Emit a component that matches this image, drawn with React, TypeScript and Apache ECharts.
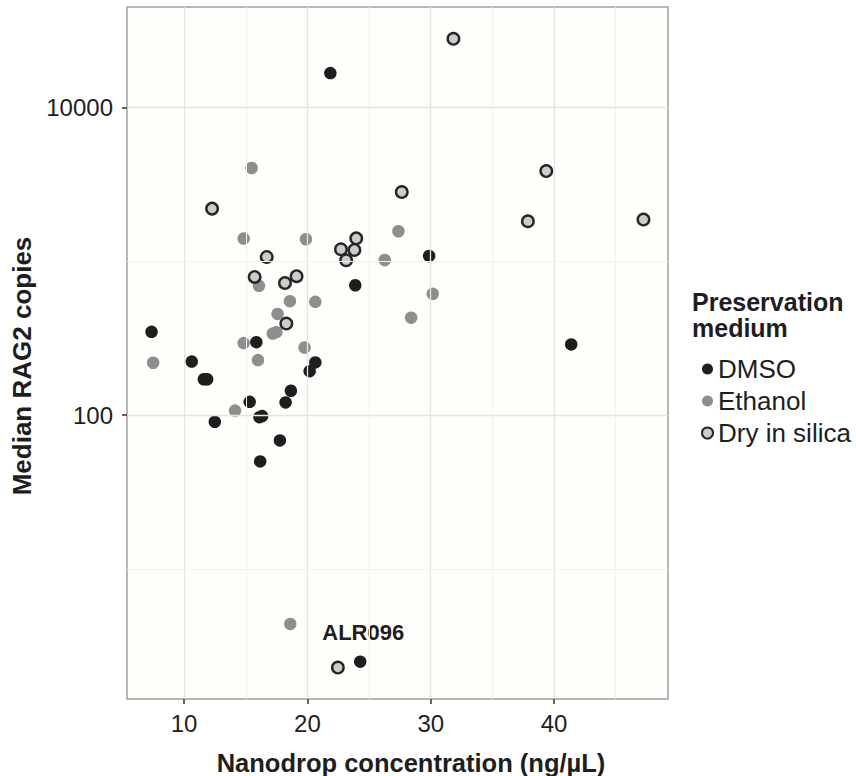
import React, { useEffect, useRef } from "react";
import * as echarts from "echarts";

// ---- Data ----
const dmsoX = [21.86, 29.87, 23.88, 7.36, 15.86, 10.62, 11.6, 11.87, 20.64, 20.18, 18.66, 18.23, 15.32, 16.11, 16.33, 12.49, 17.77, 16.17, 24.28, 41.39];
const dmsoY = [16700, 1082, 698, 348, 298, 223, 171, 171, 220, 193, 144, 121, 122, 97, 98.6, 90.5, 68.5, 50, 2.5, 288];

const ethanolX = [15.48, 14.83, 19.88, 27.38, 26.27, 16.07, 18.58, 20.64, 30.16, 28.41, 17.58, 17.19, 17.48, 14.83, 19.77, 7.49, 15.99, 14.13, 18.61];
const ethanolY = [4036, 1403, 1390, 1567, 1019, 692, 550, 545, 614, 430, 455, 339, 346, 294, 275, 219, 228, 107, 4.4];

const silicaX = [31.84, 12.27, 27.65, 23.96, 22.72, 23.81, 23.14, 16.7, 15.72, 19.12, 18.18, 18.29, 39.37, 37.88, 47.25, 22.47];
const silicaY = [27900, 2198, 2818, 1409, 1197, 1184, 1015, 1067, 791, 800, 722, 394, 3856, 1820, 1866, 2.29];

const labelledSample = "ALR096";
const labelledIndex = 18; // DMSO point carrying the label

const xTicks = [10, 20, 30, 40];
const xMinorGrid = [15, 25, 35, 45];
const yTicks = [100, 10000];
const yMinorGrid = [10, 1000];

const xRange = [5.37, 49.24];
const yRange = [1.43, 44900];

const legendTitleLines = ["Preservation", "medium"];

const FONT = "'Liberation Sans', Arial, Helvetica, sans-serif";

export default function App() {
  const ref = useRef<HTMLDivElement>(null);

  useEffect(() => {
    document.body.style.margin = "0";
    if (!ref.current) return;
    const chart = echarts.init(ref.current, undefined, { renderer: "svg" });
    const lg = (v: number) => Math.log10(v);

    const gridLines = [
      ...xTicks.map((v) => ({ xAxis: v, lineStyle: { color: "#e4e4e4", width: 1.3, type: "solid" } })),
      ...xMinorGrid.map((v) => ({ xAxis: v, lineStyle: { color: "#f1f1ee", width: 1, type: "solid" } })),
      ...yTicks.map((v) => ({ yAxis: lg(v), lineStyle: { color: "#e4e4e4", width: 1.3, type: "solid" } })),
      ...yMinorGrid.map((v) => ({ yAxis: lg(v), lineStyle: { color: "#f1f1ee", width: 1, type: "solid" } })),
    ];

    const option: any = {
      animation: false,
      backgroundColor: "#ffffff",
      textStyle: { fontFamily: FONT },
      grid: {
        left: 127,
        top: 7,
        width: 541,
        height: 692,
        show: true,
        backgroundColor: "#fefefa",
        borderColor: "#a0a0a0",
        borderWidth: 1.5,
      },
      xAxis: {
        type: "value",
        min: xRange[0],
        max: xRange[1],
        axisLine: { show: false },
        splitLine: { show: false },
        axisTick: {
          show: true,
          customValues: xTicks,
          length: 5,
          lineStyle: { color: "#333", width: 1.5 },
        },
        axisLabel: {
          customValues: xTicks,
          fontSize: 24,
          color: "#1e1e1e",
          margin: 12,
          fontFamily: FONT,
        },
      },
      yAxis: {
        type: "value",
        min: lg(yRange[0]),
        max: lg(yRange[1]),
        axisLine: { show: false },
        splitLine: { show: false },
        axisTick: {
          show: true,
          customValues: yTicks.map(lg),
          length: 5,
          lineStyle: { color: "#333", width: 1.5 },
        },
        axisLabel: {
          customValues: yTicks.map(lg),
          fontSize: 24,
          color: "#1e1e1e",
          margin: 14,
          fontFamily: FONT,
          formatter: (v: number) => String(Math.round(Math.pow(10, v))),
        },
      },
      legend: {
        orient: "vertical",
        left: 696,
        top: 351,
        itemWidth: 11,
        itemHeight: 11,
        itemGap: 6,
        icon: "circle",
        textStyle: { fontSize: 26, color: "#1e1e1e", fontFamily: FONT },
        data: [
          { name: "DMSO", itemStyle: { color: "#1e1e1e", borderWidth: 0 } },
          { name: "Ethanol", itemStyle: { color: "#8e8e8e", borderWidth: 0 } },
          { name: "Dry in silica", itemStyle: { color: "#cccccc", borderColor: "#262626", borderWidth: 2 } },
        ],
      },
      graphic: [
        ...legendTitleLines.map((t, i) => ({
          type: "text",
          left: 692,
          top: 289 + i * 26,
          style: {
            text: t,
            font: `bold 25px ${FONT}`,
            lineHeight: 24,
            fill: "#1e1e1e",
          },
        })),
        {
          type: "text",
          x: 411,
          y: 763,
          style: {
            text: "Nanodrop concentration (ng/\u00b5L)",
            font: `bold 25.5px ${FONT}`,
            fill: "#1e1e1e",
            align: "center",
            verticalAlign: "middle",
          },
        },
        {
          type: "text",
          x: 22,
          y: 366,
          rotation: Math.PI / 2,
          style: {
            text: "Median RAG2 copies",
            font: `bold 26px ${FONT}`,
            fill: "#1e1e1e",
            align: "center",
            verticalAlign: "middle",
          },
        },
      ],
      series: [
        {
          type: "scatter",
          data: [],
          z: 1,
          silent: true,
          markLine: {
            silent: true,
            symbol: ["none", "none"],
            label: { show: false },
            animation: false,
            data: gridLines,
          },
        },
        {
          name: "DMSO",
          type: "scatter",
          z: 3,
          symbolSize: 12.5,
          itemStyle: { color: "#1e1e1e", opacity: 1 },
          data: dmsoX.map((x, i) => {
            const pt = [x, lg(dmsoY[i])];
            if (i === labelledIndex) {
              return {
                value: pt,
                label: {
                  show: true,
                  formatter: labelledSample,
                  position: "top",
                  distance: 12,
                  offset: [3, 0],
                  fontSize: 22,
                  fontWeight: "bold",
                  color: "#1e1e1e",
                  fontFamily: FONT,
                },
              };
            }
            return pt;
          }),
        },
        {
          name: "Ethanol",
          type: "scatter",
          z: 2,
          symbolSize: 12.5,
          itemStyle: { color: "#8e8e8e", opacity: 1 },
          data: ethanolX.map((x, i) => [x, lg(ethanolY[i])]),
        },
        {
          name: "Dry in silica",
          type: "scatter",
          z: 4,
          symbolSize: 11.5,
          itemStyle: { color: "#cccccc", borderColor: "#262626", borderWidth: 2.4, opacity: 1 },
          data: silicaX.map((x, i) => [x, lg(silicaY[i])]),
        },
      ],
    };

    chart.setOption(option);
    return () => chart.dispose();
  }, []);

  return <div ref={ref} style={{ width: 856, height: 776 }} />;
}
